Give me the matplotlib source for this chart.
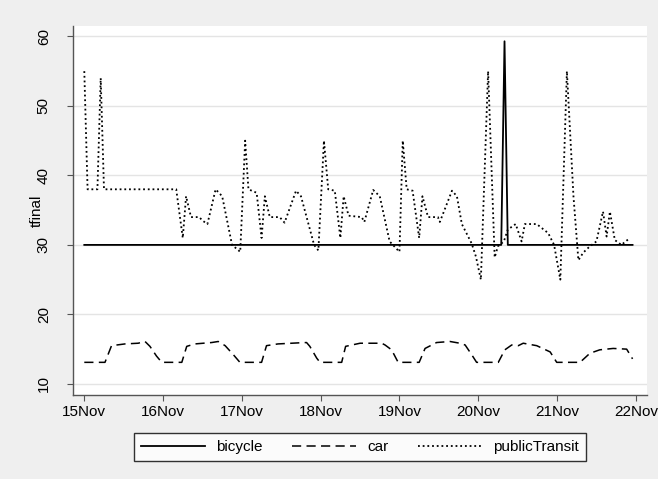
import matplotlib
matplotlib.use("Agg")
import matplotlib.pyplot as plt

plt.rcParams['font.family'] = ['Liberation Sans', 'DejaVu Sans']

# hours since 15Nov 00:00
bike_h = [0, 127, 128, 129, 167]
bike_v = [30, 30, 59.3, 30, 30]

car_h = [0, 6.3, 8.3, 12.4, 16.4, 18.5, 20, 22, 23.6, 29.7, 31.2, 33.7, 38.8, 40.8, 42.9,
         45.4, 47.4, 54, 55.5, 59, 65.2, 67.7, 68.7, 70.8, 71.8, 78.4, 79.6, 84, 90.6, 91.6,
         93.6, 95.6, 102, 103.8, 107.3, 111.4, 114.4, 116, 118, 119.5, 126.1, 128.1, 130.2,
         132.2, 133.7, 137.8, 141.9, 143.9, 151, 154, 157, 161.1, 165.2, 167]
car_v = [13.1, 13.1, 15.5, 15.75, 15.85, 16.1, 15.4, 14.0, 13.1, 13.1, 15.4, 15.75, 15.95,
         16.1, 15.5, 14.2, 13.1, 13.1, 15.5, 15.75, 15.9, 15.95, 15.4, 13.7, 13.1, 13.1, 15.4,
         15.85, 15.85, 15.6, 14.9, 13.1, 13.1, 15.1, 15.95, 16.1, 15.85, 15.6, 14.2, 13.1,
         13.1, 14.9, 15.6, 15.5, 15.85, 15.5, 14.6, 13.1, 13.1, 14.4, 14.9, 15.1, 15.0, 13.6]

pt_h = [0, 1, 4, 5, 6, 28, 30, 31, 32.5, 35, 36, 37.5, 40, 42, 45, 47.5,
        49, 50, 52.5, 54, 55, 56.5, 59.5, 61, 64.5, 66, 70, 71.3,
        73, 74.3, 76.3, 78, 79, 80.5, 84.5, 85.3, 88, 90, 93, 96,
        97, 98.2, 100, 102, 103, 104.7, 107.7, 108.3, 112, 113.5, 115, 118, 119.3, 120.8,
        123, 125, 126, 127.8, 129, 131.4, 133.2, 134.2, 137.8, 141.3, 143.1, 145,
        147, 149, 150.5, 152, 154, 156, 158, 159.1, 160.1, 161.6, 163.6, 166.2]
pt_v = [55, 38, 38, 54, 38, 38, 31, 37, 34, 34, 33.5, 33, 38, 37, 30, 29,
        45, 38, 37.5, 31, 37, 34, 34, 33.2, 37.8, 37, 30, 29.2,
        45, 38, 37.8, 31, 37, 34.2, 34, 33.3, 37.9, 37, 30.5, 29,
        45, 38, 37.8, 31, 37, 34, 34, 33.3, 37.8, 37, 33, 30.2, 28.3, 25,
        55, 28.2, 29.8, 30.5, 32.2, 33, 30.5, 33, 33, 31.7, 30, 25,
        55, 37, 27.8, 28.9, 29.8, 30.5, 34.8, 31.2, 34.8, 30.7, 30, 31]

day_ticks = [0, 24, 48, 72, 96, 120, 144, 168]
day_labels = ['15Nov', '16Nov', '17Nov', '18Nov', '19Nov', '20Nov', '21Nov', '22Nov']
y_ticks = [10, 20, 30, 40, 50, 60]

bg = '#efefef'
fig = plt.figure(figsize=(6.58, 4.79), dpi=100, facecolor=bg)
ax = fig.add_axes([73/658, 1 - 395/479, (647-73)/658, (395-26)/479])
ax.set_facecolor('white')

ax.plot(bike_h, bike_v, color='black', lw=1.3, ls='-', label='bicycle')
ax.plot(car_h, car_v, color='black', lw=1.1, ls=(0, (6, 3.5)), label='car')
ax.plot(pt_h, pt_v, color='black', lw=1.3, ls=(0, (1, 1.6)), label='publicTransit')

ax.set_xlim(-3.44, 171.4)
ax.set_ylim(8.4, 61.5)
ax.set_xticks(day_ticks)
ax.set_xticklabels(day_labels)
ax.set_yticks(y_ticks)
ax.set_yticklabels([str(t) for t in y_ticks], rotation=90, va='center')
ax.grid(axis='y', color='#e4e4e4', lw=1)
ax.set_axisbelow(True)
for s in ['top', 'right']:
    ax.spines[s].set_visible(False)
for s in ['left', 'bottom']:
    ax.spines[s].set_color('#555555')
    ax.spines[s].set_linewidth(1)
ax.tick_params(axis='both', labelsize=11, length=4, color='#555555', pad=3)
ax.tick_params(axis='y', pad=12)
ax.set_ylabel('tfinal', fontsize=11)
ax.yaxis.set_label_coords(-0.05, 0.5)

leg = fig.legend(loc='center', bbox_to_anchor=(360/658, 1 - 447/479), ncol=3,
                 fontsize=11, frameon=True, fancybox=False, edgecolor='black',
                 handlelength=4.2, handletextpad=0.7, columnspacing=1.95,
                 borderpad=0.45)
leg.get_frame().set_linewidth(1)

fig.savefig('out.png', dpi=100, facecolor=bg)
